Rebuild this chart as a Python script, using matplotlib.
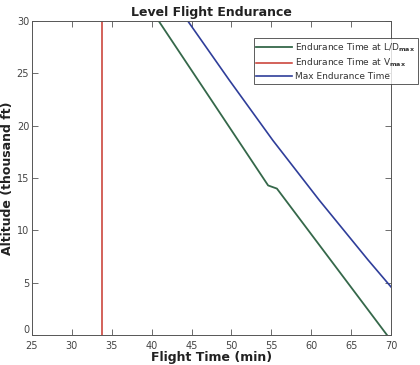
import numpy as np
import matplotlib
matplotlib.use("Agg")
import matplotlib.pyplot as plt

# values
ld_time = [40.9, 47.8, 54.6, 55.7, 62.6, 69.5]
ld_alt = [30.0, 22.1, 14.3, 14.0, 7.0, 0.0]
vmax_time = [33.8, 33.8]
vmax_alt = [0, 30]
max_time = [44.55, 49.7, 55.2, 61.0, 67.1, 70.0]
max_alt = [30.0, 24.4, 18.6, 12.9, 7.2, 4.6]

xticks = [25, 30, 35, 40, 45, 50, 55, 60, 65, 70]
yticks = [0, 5, 10, 15, 20, 25, 30]

fig = plt.figure(figsize=(4.2, 3.65), dpi=100)
ax = fig.add_axes([0.076, 0.082, 0.855, 0.86])

ax.plot(ld_time, ld_alt, color="#35684a", lw=1.3, label="Endurance Time at L/D$_{\\mathbf{max}}$")
ax.plot(vmax_time, vmax_alt, color="#c8372d", lw=1.1, label="Endurance Time at V$_{\\mathbf{max}}$")
ax.plot(max_time, max_alt, color="#2f3e9a", lw=1.2, label="Max Endurance Time")

ax.set_xlim(25, 70)
ax.set_ylim(0, 30)
ax.set_xticks(xticks)
ax.set_yticks(yticks)
ax.tick_params(direction="in", top=True, right=True, labelsize=7, labelcolor="#444444",
               length=4, width=0.6, color="#555555")
ax.tick_params(axis="x", pad=4)
ax.tick_params(axis="y", pad=2)
for s in ax.spines.values():
    s.set_linewidth(0.7)
    s.set_color("#555555")
# the bottom "0" sits a bit higher so it clears the "25"
ax.get_yticklabels()[0].set_verticalalignment("bottom")

ax.set_title("Level Flight Endurance", fontsize=9, fontweight="bold", pad=4, color="#222222")
ax.set_xlabel("Flight Time (min)", fontsize=9, fontweight="bold", labelpad=0, color="#222222")
ax.set_ylabel("Altitude (thousand ft)", fontsize=9, fontweight="bold", labelpad=2, color="#222222")

leg = ax.legend(loc="upper right", bbox_to_anchor=(0.995, 0.895), bbox_transform=fig.transFigure,
                fontsize=6.5, frameon=True, fancybox=False, handlelength=4,
                borderpad=0.3, labelspacing=0.35, handletextpad=0.3, borderaxespad=0)
leg.get_frame().set_edgecolor("#333333")
leg.get_frame().set_linewidth(0.7)
for t in leg.get_texts():
    t.set_color("#333333")

plt.savefig("out.png", dpi=100)
